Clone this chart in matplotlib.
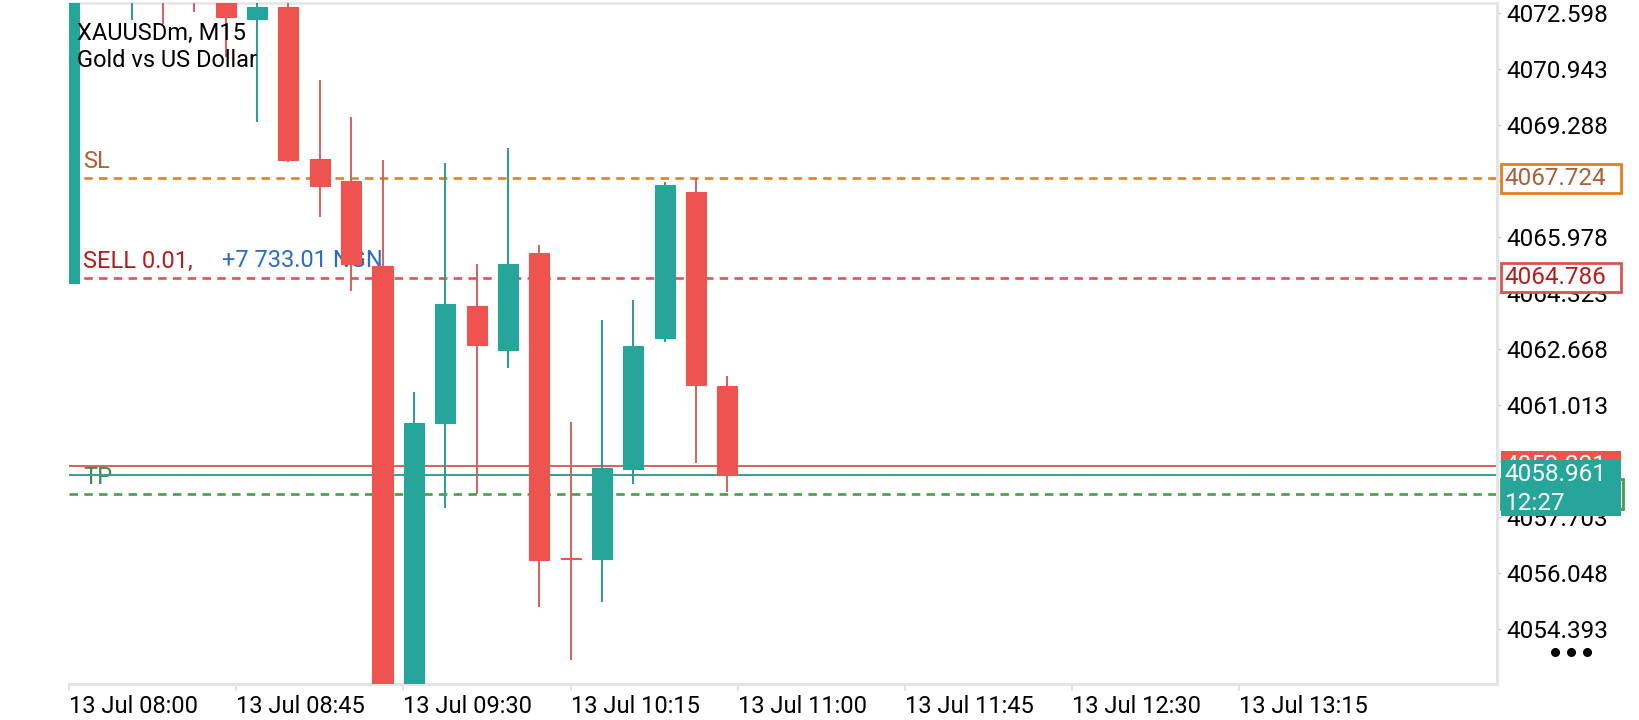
import numpy as np
import matplotlib.pyplot as plt
from matplotlib.patches import Rectangle
from matplotlib.lines import Line2D

plt.rcParams['font.family'] = ['Roboto', 'DejaVu Sans']

# M15 candles, oldest first (parts above the visible window are estimates)
opens = [4064.63, 4074.80, 4073.70, 4074.50, 4073.80, 4073.20, 4072.42, 4072.79,
         4068.28, 4067.64, 4065.13, 4052.30, 4060.50, 4063.94, 4062.66, 4065.52,
         4056.50, 4056.48, 4059.12, 4063.01, 4067.32, 4061.59]
highs = [4075.20, 4076.10, 4075.60, 4075.00, 4074.30, 4073.50, 4073.00, 4072.95,
         4070.63, 4069.52, 4068.25, 4061.40, 4068.16, 4065.18, 4068.62, 4065.74,
         4060.52, 4063.53, 4064.12, 4067.60, 4067.73, 4061.88]
lows = [4064.63, 4073.60, 4072.40, 4072.28, 4072.65, 4071.32, 4069.39, 4068.19,
        4066.59, 4064.39, 4051.60, 4051.90, 4057.99, 4058.38, 4062.13, 4055.04,
        4053.48, 4055.21, 4058.70, 4062.87, 4059.30, 4058.46]
closes = [4074.80, 4075.50, 4074.90, 4073.60, 4073.10, 4072.50, 4072.79, 4068.26,
          4067.50, 4065.20, 4052.20, 4060.49, 4064.00, 4062.81, 4065.18, 4056.45,
          4056.47, 4059.16, 4062.77, 4067.52, 4061.60, 4058.961]

# trade levels
sl_price = 4067.724
entry_price = 4064.786
tp_price = 4058.380
bid_price = 4058.961
ask_price = 4059.221
timer = '12:27'

ytick_vals = [4054.393, 4056.048, 4057.703, 4059.358, 4061.013, 4062.668,
              4064.323, 4065.978, 4067.633, 4069.288, 4070.943, 4072.598]
xtick_labels = ['13 Jul 08:00', '13 Jul 08:45', '13 Jul 09:30', '13 Jul 10:15',
                '13 Jul 11:00', '13 Jul 11:45', '13 Jul 12:30', '13 Jul 13:15']

bull = '#26a69a'
bear = '#ef5350'
bull_wick = '#2b9c90'
bear_wick = '#d6605b'
grid_gray = '#e4e4e4'

fig = plt.figure(figsize=(16.4, 7.2), dpi=100)
ax = fig.add_axes([69 / 1640, 36 / 720, 1428 / 1640, 681 / 720])

ymin, ymax = 4052.778, 4072.902
ax.set_xlim(0.016, 45.55)
ax.set_ylim(ymin, ymax)
ppu = 681 / (ymax - ymin)  # pixels per price unit

x = np.arange(len(opens))
o = np.array(opens)
c = np.array(closes)
up = c >= o
body_col = np.where(up, bull, bear)
wick_col = np.where(up, bull_wick, bear_wick)

ax.vlines(x, lows, highs, colors=wick_col, lw=1.4, zorder=3)
ax.bar(x, c - o, bottom=o, width=0.64, color=body_col, edgecolor=body_col,
       linewidth=0.8, zorder=4)

# level lines
dash = (0, (3.2, 2.4))
ax.axhline(ask_price, color='#d9605c', lw=1.4, zorder=2)
ax.axhline(bid_price, color='#3a9d95', lw=1.4, zorder=2)
ax.axhline(sl_price, color='#e67e22', lw=1.9, ls=dash, zorder=2)
ax.axhline(entry_price, color='#e05252', lw=1.9, ls=dash, zorder=2)
ax.axhline(tp_price, color='#43a047', lw=1.9, ls=dash, zorder=2)

lab_kw = dict(xycoords=('axes fraction', 'data'), textcoords='offset points',
              va='center', ha='left', fontsize=17, zorder=1)
ax.annotate('SL', (0.0098, sl_price), xytext=(0, 12), color='#b0622e', **lab_kw)
ax.annotate('SELL 0.01,', (0.0098, entry_price), xytext=(0, 12), color='#b71c1c', **lab_kw)
ax.annotate('+7 733.01 NGN', (0.107, entry_price), xytext=(0, 12), color='#2b6cc4', **lab_kw)
ax.annotate('TP', (0.0098, tp_price), xytext=(0, 12), color='#3b8a4a', **lab_kw)

ax.text(0.0056, 0.955, 'XAUUSDm, M15', transform=ax.transAxes, fontsize=17,
        va='center', ha='left', color='black', zorder=5)
ax.text(0.0056, 0.915, 'Gold vs US Dollar', transform=ax.transAxes, fontsize=17,
        va='center', ha='left', color='black', zorder=5)

# axes frame
ax.spines['left'].set_visible(False)
ax.spines['top'].set_color(grid_gray)
ax.spines['top'].set_linewidth(1.8)
ax.spines['bottom'].set_color(grid_gray)
ax.spines['bottom'].set_linewidth(2.2)
ax.spines['right'].set_color(grid_gray)
ax.spines['right'].set_linewidth(2.2)

ax.yaxis.tick_right()
ax.set_yticks(ytick_vals)
ax.set_yticklabels([f'{v:.3f}' for v in ytick_vals])
ax.tick_params(axis='y', direction='out', length=3, width=1, color='#cccccc',
               pad=3.5, labelsize=17.5, labelcolor='black')

ax.set_xticks(np.arange(len(xtick_labels)) * 16 / 3)
ax.set_xticklabels(xtick_labels)
ax.tick_params(axis='x', direction='out', length=5, width=1.2, color='#dddddd',
               pad=3, labelsize=17, labelcolor='black')
for lbl in ax.get_xticklabels():
    lbl.set_ha('left')

# price boxes on the right scale
ytr = ax.get_yaxis_transform()
bx = 1.0028
bw = 120 / 1428


def price_box(price, top_px, h_px, fc, ec, z, lw=2.0, w=bw):
    top = price + top_px / ppu
    r = Rectangle((bx, top - h_px / ppu), w, h_px / ppu, transform=ytr,
                  clip_on=False, fc=fc, ec=ec, lw=lw, zorder=z)
    ax.add_patch(r)


box_kw = dict(transform=ytr, va='center', ha='left', fontsize=17.5, clip_on=False)

price_box(sl_price, 14.5, 29, 'white', '#e67e22', 6)
ax.text(1.0055, sl_price, f'{sl_price:.3f}', color='#a8613a', zorder=7, **box_kw)

price_box(entry_price, 14.5, 29, 'white', '#d9534f', 6)
ax.text(1.0055, entry_price, f'{entry_price:.3f}', color='#b71c1c', zorder=7, **box_kw)

price_box(tp_price, 15, 30, 'white', '#43a047', 6, w=bw + 2 / 1428)
ax.text(1.0055, tp_price, f'{tp_price:.3f}', color='#2e7d32', zorder=7, **box_kw)

price_box(ask_price, 14.5, 29, bear, bear, 8, lw=0)
ax.text(1.0055, ask_price, f'{ask_price:.3f}', color='white', zorder=9, **box_kw)

price_box(bid_price, 14.5, 56, bull, bull, 10, lw=0)
ax.text(1.0055, bid_price, f'{bid_price:.3f}', color='white', zorder=11, **box_kw)
ax.annotate(timer, (1.0055, bid_price), xycoords=ytr, textcoords='offset points',
            xytext=(0, -20.5), va='center', ha='left', fontsize=17.5,
            color='white', zorder=11, annotation_clip=False)

# menu dots, bottom right
fig.add_artist(Line2D([1555 / 1640, 1571 / 1640, 1587 / 1640], [1 - 652 / 720] * 3,
                      transform=fig.transFigure, marker='o', ls='none',
                      color='black', markersize=5.5))

fig.savefig('out.png', dpi=100)
